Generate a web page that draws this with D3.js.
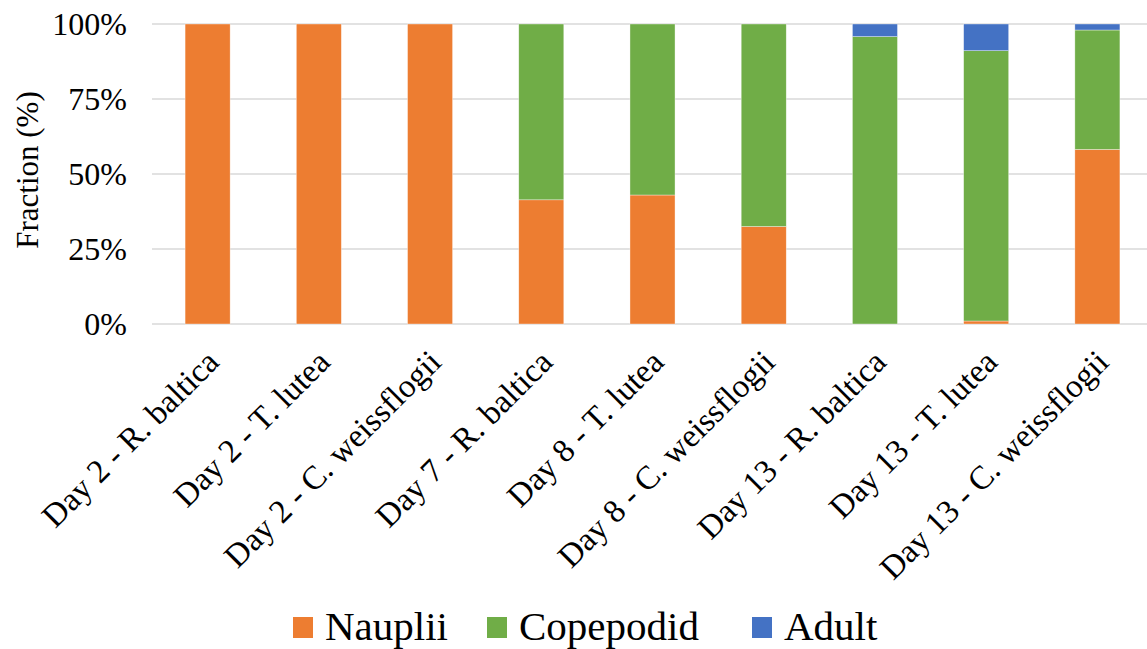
<!DOCTYPE html>
<html><head><meta charset="utf-8">
<script src="https://cdn.jsdelivr.net/npm/d3@7"></script>
<style>
body{margin:0;background:#fff}
svg{display:block}
svg text, svg g, svg{font-family:"Liberation Serif" !important;}
</style>
</head><body><svg id="c" width="1147" height="649" font-family="Liberation Serif"></svg>
<script>
const categories = ["Day 2 - R. baltica","Day 2 - T. lutea","Day 2 - C. weissflogii","Day 7 - R. baltica","Day 8 - T. lutea","Day 8 - C. weissflogii","Day 13 - R. baltica","Day 13 - T. lutea","Day 13 - C. weissflogii"];
const nauplii   = [1.00, 1.00, 1.00, 0.414, 0.430, 0.325, 0.000, 0.010, 0.582];
const copepodid = [0.00, 0.00, 0.00, 0.586, 0.570, 0.675, 0.958, 0.901, 0.398];
const adult     = [0.00, 0.00, 0.00, 0.000, 0.000, 0.000, 0.042, 0.089, 0.020];
const seriesNames = ["Nauplii","Copepodid","Adult"];
const colors = ["#ED7D31","#70AD47","#4472C4"];
const yTicks = [0, 0.25, 0.5, 0.75, 1];

const svg = d3.select("#c");
const serifFam = '"Liberation Serif"';
const x = d3.scaleBand().domain(categories).range([152, 1153]).paddingInner(0.595).paddingOuter(0.2975);
const y = d3.scaleLinear().domain([0,1]).range([324, 24]);

// gridlines
svg.append("g").selectAll("line").data(yTicks).join("line")
  .attr("x1",152).attr("x2",1147).attr("y1",d=>y(d)).attr("y2",d=>y(d))
  .attr("stroke","#d9d9d9").attr("stroke-width",1.5);

const table = categories.map((c,i)=>({cat:c, Nauplii:nauplii[i], Copepodid:copepodid[i], Adult:adult[i]}));
const stack = d3.stack().keys(seriesNames)(table);
svg.append("g").selectAll("g").data(stack).join("g")
  .attr("fill",(d,i)=>colors[i])
  .selectAll("rect").data(d=>d).join("rect")
  .attr("x",d=>x(d.data.cat)).attr("width",x.bandwidth())
  .attr("y",d=>y(d[1])).attr("height",d=>Math.max(0,y(d[0])-y(d[1])))
  .attr("stroke","#fff").attr("stroke-width",0.6).attr("stroke-opacity",0.6);

// y axis labels
const yAxis = d3.axisLeft(y).tickValues(yTicks).tickFormat(d3.format(".0%")).tickSize(0).tickPadding(0);
const ya = svg.append("g").attr("transform","translate(127,0)").call(yAxis);
ya.attr("font-family",serifFam).attr("font-size",32);
ya.select(".domain").remove();
ya.selectAll("text").style("font-family",serifFam).style("font-size","32px").attr("fill","#000");

// x axis labels
const xAxis = d3.axisBottom(x).tickSize(0).tickPadding(0);
const xa = svg.append("g").attr("transform","translate(0,324)").call(xAxis);
xa.attr("font-family",serifFam).attr("font-size",33);
xa.select(".domain").remove();
xa.selectAll("text")
  .style("font-family",serifFam).style("font-size","33px").attr("fill","#000")
  .attr("text-anchor","end").attr("y",0).attr("dy",0)
  .attr("transform","translate(13,40) rotate(-45)");

// y title
svg.append("text").attr("transform","translate(38,170) rotate(-90)")
  .attr("text-anchor","middle").style("font-family",serifFam).style("font-size","31px").attr("fill","#000")
  .text("Fraction (%)");

// legend
const legendX = [293, 487, 752];
const lg = svg.append("g");
seriesNames.forEach((n,i)=>{
  lg.append("rect").attr("x",legendX[i]).attr("y",617).attr("width",20).attr("height",21).attr("fill",colors[i]);
  lg.append("text").attr("x",legendX[i]+32).attr("y",640).style("font-family",serifFam).style("font-size","41px").attr("fill","#000").text(n);
});
</script></body></html>
